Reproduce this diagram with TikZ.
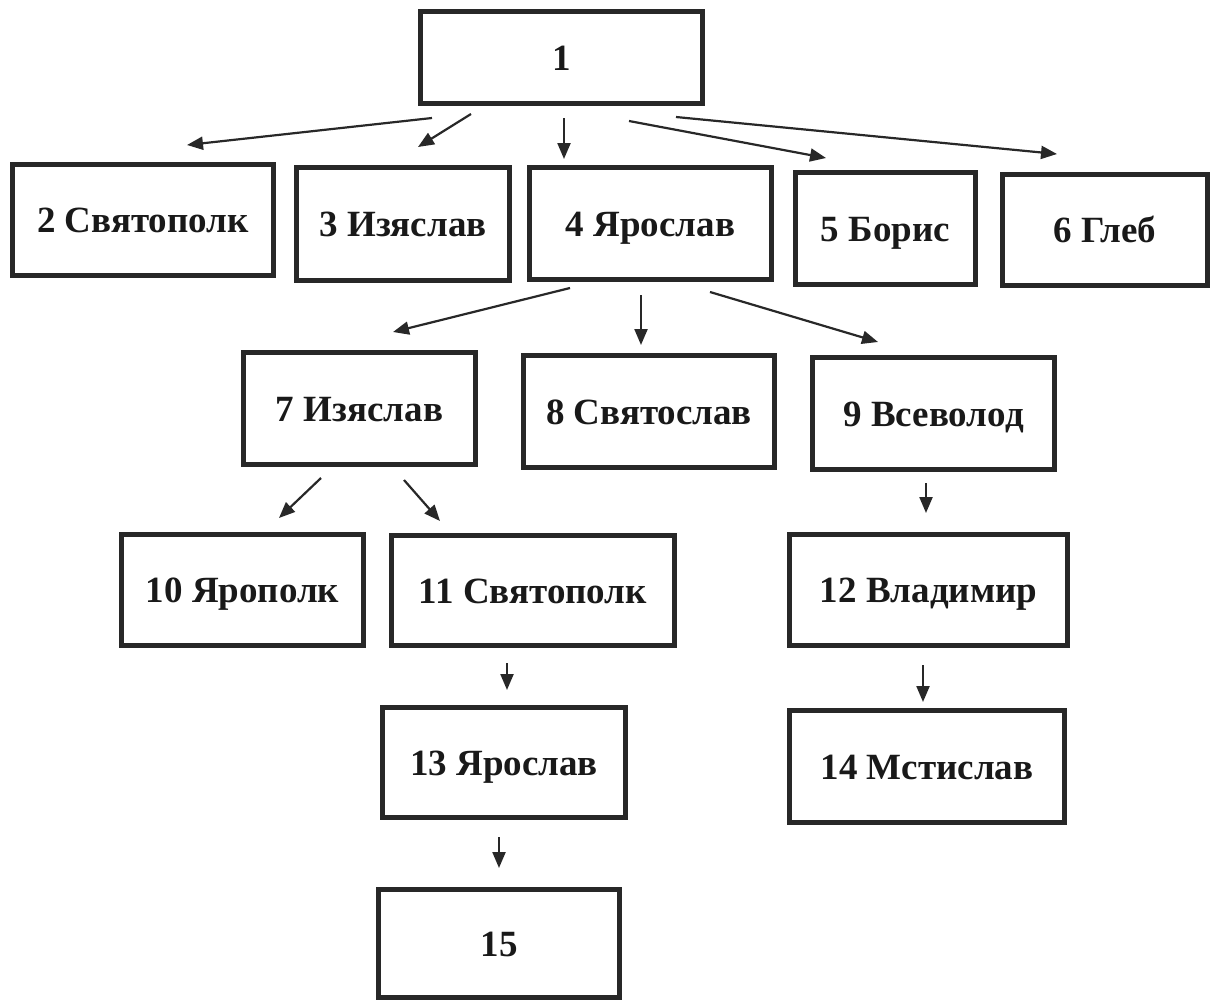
\documentclass[tikz,border=0pt]{standalone}
\usepackage{fontspec}
\setmainfont{Liberation Serif}
\usepackage{tikz}
\definecolor{ln}{RGB}{40, 40, 40}
\usetikzlibrary{arrows.meta}

\begin{document}
\begin{tikzpicture}[box/.style={rectangle, draw=ln, line width=4.5pt, inner sep=0pt, text height=25pt, text depth=0pt, text=black!90, font=\fontsize{37pt}{40pt}\selectfont\bfseries},
link/.style={line width=2.2pt, color=ln, -{Triangle[length=16pt, width=13pt]}}]
\useasboundingbox (0pt, 0pt) rectangle (1212pt, -1002pt);
\node (1) [box, minimum width=282pt, minimum height=92pt] at (561.5pt, -57.5pt) {1};
\node (2) [box, minimum width=261pt, minimum height=111pt] at (143.0pt, -220.0pt) {2 Святополк};
\node (3) [box, minimum width=213pt, minimum height=113pt] at (403.0pt, -224.0pt) {3 Изяслав};
\node (4) [box, minimum width=242pt, minimum height=112pt] at (650.5pt, -223.5pt) {4 Ярослав};
\node (5) [box, minimum width=180pt, minimum height=112pt] at (885.5pt, -228.5pt) {5 Борис};
\node (6) [box, minimum width=205pt, minimum height=111pt] at (1105.0pt, -230.0pt) {6 Глеб};
\node (7) [box, minimum width=232pt, minimum height=112pt] at (359.5pt, -408.5pt) {7 Изяслав};
\node (8) [box, minimum width=251pt, minimum height=112pt] at (649.0pt, -411.5pt) {8 Святослав};
\node (9) [box, minimum width=242pt, minimum height=112pt] at (933.5pt, -413.5pt) {9 Всеволод};
\node (10) [box, minimum width=242pt, minimum height=111pt] at (242.5pt, -590.0pt) {10 Ярополк};
\node (11) [box, minimum width=283pt, minimum height=110pt] at (533.0pt, -590.5pt) {11 Святополк};
\node (12) [box, minimum width=278pt, minimum height=111pt] at (928.5pt, -590.0pt) {12 Владимир};
\node (13) [box, minimum width=243pt, minimum height=110pt] at (504.0pt, -762.5pt) {13 Ярослав};
\node (14) [box, minimum width=275pt, minimum height=112pt] at (927.0pt, -766.5pt) {14 Мстислав};
\node (15) [box, minimum width=241pt, minimum height=108pt] at (499.0pt, -943.5pt) {15};
% arrow ends
\coordinate (f2) at (432pt, -118pt);  \coordinate (t2) at (187pt, -145pt);
\coordinate (f3) at (471pt, -114pt);  \coordinate (t3) at (418pt, -147pt);
\coordinate (f4) at (564pt, -118pt);  \coordinate (t4) at (564pt, -159pt);
\coordinate (f5) at (629pt, -121pt);  \coordinate (t5) at (826pt, -158pt);
\coordinate (f6) at (676pt, -117pt);  \coordinate (t6) at (1057pt, -154pt);
\coordinate (f7) at (570pt, -288pt);  \coordinate (t7) at (393pt, -332pt);
\coordinate (f8) at (641pt, -295pt);  \coordinate (t8) at (641pt, -345pt);
\coordinate (f9) at (710pt, -292pt);  \coordinate (t9) at (878pt, -342pt);
\coordinate (f10) at (321pt, -478pt); \coordinate (t10) at (279pt, -518pt);
\coordinate (f11) at (404pt, -480pt); \coordinate (t11) at (440pt, -521pt);
\coordinate (f12) at (926pt, -483pt); \coordinate (t12) at (926pt, -513pt);
\coordinate (f13) at (507pt, -663pt); \coordinate (t13) at (507pt, -690pt);
\coordinate (f14) at (923pt, -665pt); \coordinate (t14) at (923pt, -702pt);
\coordinate (f15) at (499pt, -837pt); \coordinate (t15) at (499pt, -868pt);
\foreach \n in {2,...,15}
  \draw [link] (f\n) to (t\n);
\end{tikzpicture}
\end{document}
